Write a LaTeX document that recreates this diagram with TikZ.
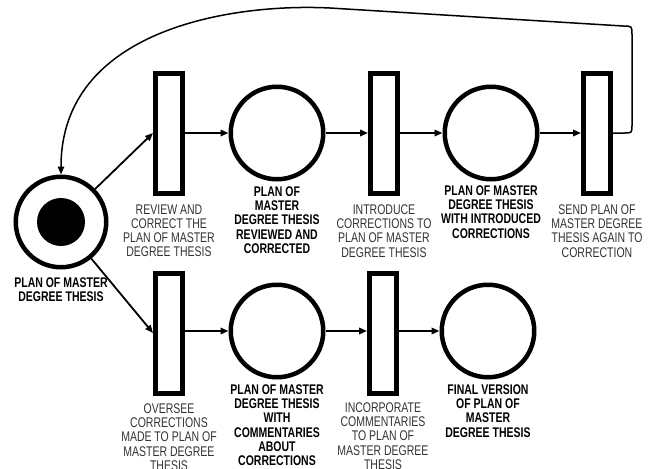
\documentclass[tikz,border=0pt]{standalone}
\usepackage{fontspec}
\setmainfont{Liberation Sans}[FakeStretch=0.75]
\usepackage{tikz}
\usetikzlibrary{arrows.meta, positioning}

\begin{document}
\begin{tikzpicture}[
    x=1pt, y=-1pt,
    place/.style={draw, circle, line width=4.5pt, minimum size=92.5pt, inner sep=0pt},
    transition/.style={draw, rectangle, line width=5pt, minimum width=27pt, minimum height=120pt, inner sep=0pt},
    token/.style={circle, fill=black, minimum size=48pt, inner sep=0pt},
    arc/.style={line width=1.8pt, -{Triangle[length=8pt, width=6.5pt]}},
    backarc/.style={line width=1.5pt, -{Triangle[length=8pt, width=6.5pt]}},
    placelabel/.style={font=\fontsize{14}{14.2}\selectfont\bfseries, align=center, inner sep=0pt},
    translabel/.style={font=\fontsize{14}{14.2}\selectfont, text=black!80, align=center, inner sep=0pt}
]
\useasboundingbox (0,0) rectangle (654,469);

% Start place with token
\node[place, minimum size=90.5pt] (start) at (61,222) {};
\node[token] (tok) at (start.center) {};
\node[placelabel, below=8pt of start] (startlbl) {PLAN OF MASTER\\DEGREE THESIS};

% Upper row
\node[transition] (review) at (169,133) {};
\node[translabel, below=9pt of review] (reviewlbl) {REVIEW AND\\CORRECT THE\\PLAN OF MASTER\\DEGREE THESIS};

\node[place] (reviewed) at (277,133) {};
\node[placelabel, below=5pt of reviewed] (reviewedlbl) {PLAN OF\\MASTER\\DEGREE THESIS\\REVIEWED AND\\CORRECTED};

\node[transition] (introduce) at (384,133) {};
\node[translabel, below=9pt of introduce] (introducelbl) {INTRODUCE\\CORRECTIONS TO\\PLAN OF MASTER\\DEGREE THESIS};

\node[place] (introduced) at (491,133) {};
\node[placelabel, below=4pt of introduced] (introducedlbl) {PLAN OF MASTER\\DEGREE THESIS\\WITH INTRODUCED\\CORRECTIONS};

\node[transition] (send) at (597,133) {};
\node[translabel, below=9pt of send] (sendlbl) {SEND PLAN OF\\MASTER DEGREE\\THESIS AGAIN TO\\CORRECTION};

% Lower row
\node[transition] (oversee) at (169,333) {};
\node[translabel, below=8pt of oversee] (overseelbl) {OVERSEE\\CORRECTIONS\\MADE TO PLAN OF\\MASTER DEGREE\\THESIS};

\node[place] (commented) at (277,331) {};
\node[placelabel, below=5pt of commented] (commentedlbl) {PLAN OF MASTER\\DEGREE THESIS\\WITH\\COMMENTARIES\\ABOUT\\CORRECTIONS};

\node[transition] (incorporate) at (383,333) {};
\node[translabel, below=7pt of incorporate] (incorporatelbl) {INCORPORATE\\COMMENTARIES\\TO PLAN OF\\MASTER DEGREE\\THESIS};

\node[place] (final) at (488,331) {};
\node[placelabel, below=5pt of final] (finallbl) {FINAL VERSION\\OF PLAN OF\\MASTER\\DEGREE THESIS};

% Arcs
\draw[arc] (start) -- (review.west);
\draw[arc] (start) -- (oversee.west);
\draw[arc] (review) -- (reviewed);
\draw[arc] (reviewed) -- (introduce);
\draw[arc] (introduce) -- (introduced);
\draw[arc] (introduced) -- (send);
\draw[arc] (oversee.east |- commented) -- (commented);
\draw[arc] (commented) -- (incorporate.west |- commented);
\draw[arc] (incorporate.east |- final) -- (final);

% Back to correction
\draw[backarc] (send.east) -- (624,133) .. controls (632,133) .. (632,125) -- (632,35)
    .. controls (632,26) .. (623,26) -- (330,8) .. controls (230,3) and (61,30) .. (start.north);
\end{tikzpicture}
\end{document}
